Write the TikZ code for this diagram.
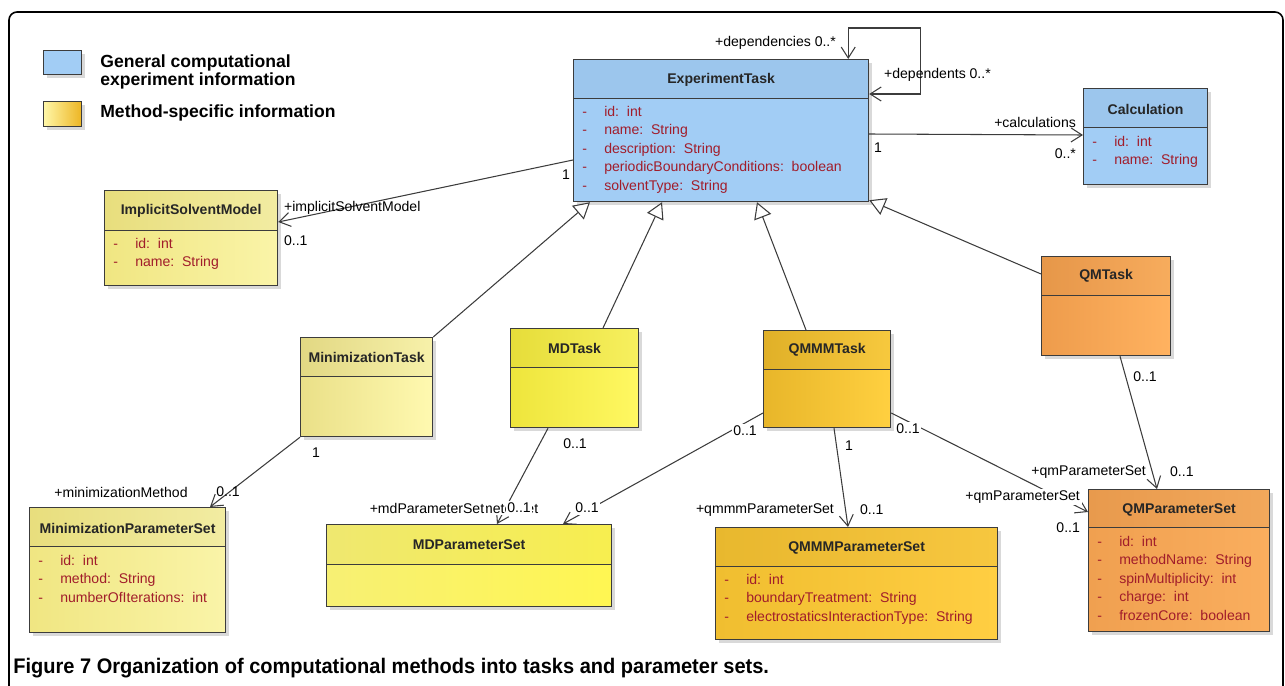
\documentclass[tikz,border=0pt]{standalone}
\usepackage{fontspec}
\setmainfont{Liberation Sans}
\newfontfamily\capfont[FakeStretch=0.95]{Liberation Sans}
\usetikzlibrary{arrows.meta, calc, shadows}

\definecolor{linegray}{HTML}{3C3C3C}
\definecolor{attred}{HTML}{A11D2B}
\definecolor{genblue}{HTML}{A2CDF5}
\definecolor{paleL}{HTML}{F0E682}
\definecolor{paleR}{HTML}{FAF4A8}
\definecolor{minL}{HTML}{EAE088}
\definecolor{minR}{HTML}{FFF9B0}
\definecolor{mdL}{HTML}{EEE53C}
\definecolor{mdR}{HTML}{FFF862}
\definecolor{mdsetL}{HTML}{F7F074}
\definecolor{mdsetR}{HTML}{FFF652}
\definecolor{qmmmL}{HTML}{E8B62A}
\definecolor{qmmmR}{HTML}{FFD040}
\definecolor{qmmmsetL}{HTML}{F0BE30}
\definecolor{qmmmsetR}{HTML}{FFCE42}
\definecolor{qmL}{HTML}{EE9C4C}
\definecolor{qmR}{HTML}{FFB260}
\definecolor{qmsetL}{HTML}{F0A050}
\definecolor{qmsetR}{HTML}{FAAE5E}
\definecolor{keyL}{HTML}{FFF7A8}
\definecolor{keyR}{HTML}{EDB523}

\newcommand{\upx}{0.02cm}
\newcommand{\att}[1]{-\hspace{9.8pt}#1}

\tikzset{
  barb/.tip={Straight Barb[length=2.2mm,width=2.8mm]},
  hollow/.tip={Triangle[fill=white,length=3.2mm,width=3.6mm]},
  umlbox/.style={draw=linegray, line width=0.7pt, anchor=north west, inner sep=0pt,
    drop shadow={shadow xshift=0.6mm, shadow yshift=-0.6mm, opacity=0.3}},
  hdr/.style={path picture={
    \fill[black, opacity=0.03] (path picture bounding box.north west) rectangle ($(path picture bounding box.north east)+(0,#1)$);
    \draw[linegray, line width=0.7pt] ($(path picture bounding box.north west)+(0,#1)$) -- ($(path picture bounding box.north east)+(0,#1)$);}},
  clsname/.style={font=\bfseries\fontsize{8}{9}\selectfont, text=black!85},
  attrs/.style={anchor=north west, align=left, inner sep=0pt, text=attred, font=\fontsize{8}{10.5}\selectfont},
  role/.style={font=\fontsize{8}{9}\selectfont, inner sep=1pt},
  rolebg/.style={role, fill=white},
  assoc/.style={draw=linegray, line width=0.6pt, -barb},
  gen/.style={draw=linegray, line width=0.6pt, -hollow},
}

\begin{document}
\begin{tikzpicture}[x=0.02cm, y=-0.02cm]
    \useasboundingbox (0,0) rectangle (1285,686);
    % frame
    \draw[line width=0.9pt, rounded corners=0.16cm] (9,690) -- (9,12) -- (1283,12) -- (1283,690);

    % legend
    \node[umlbox, fill=genblue, minimum width=38*\upx, minimum height=24*\upx] (keyblue) at (43,50) {};
    \node[anchor=west, align=left, inner sep=0pt, font=\bfseries\fontsize{10}{10.5}\selectfont] (keybluetext) at (100,72) {General computational\\experiment information};
    \node[umlbox, left color=keyL, right color=keyR, minimum width=38*\upx, minimum height=25*\upx] (keyyellow) at (43,101) {};
    \node[anchor=west, inner sep=0pt, font=\bfseries\fontsize{10}{11}\selectfont] (keyyellowtext) at (100,113) {Method-specific information};

    % classes
    \node[umlbox, fill=genblue, hdr=39, minimum width=295*\upx, minimum height=142*\upx] (exp) at (573,59) {};
    \node[clsname] at ($(exp.north)+(0,21)$) {ExperimentTask};
    \node[attrs] at ($(exp.north west)+(9,47)$) {\att{id:~~int}\\\att{name:~~String}\\\att{description:~~String}\\\att{periodicBoundaryConditions:~~boolean}\\\att{solventType:~~String}};

    \node[umlbox, fill=genblue, hdr=39, minimum width=124*\upx, minimum height=96*\upx] (calc) at (1083,88) {};
    \node[clsname] at ($(calc.north)+(0,21)$) {Calculation};
    \node[attrs] at ($(calc.north west)+(9,48)$) {\att{id:~~int}\\\att{name:~~String}};

    \node[umlbox, left color=paleL, right color=paleR, hdr=40, minimum width=173*\upx, minimum height=95*\upx] (ism) at (104,190) {};
    \node[clsname] at ($(ism.north)+(0,21)$) {ImplicitSolventModel};
    \node[attrs] at ($(ism.north west)+(9,48)$) {\att{id:~~int}\\\att{name:~~String}};

    \node[umlbox, left color=paleL, right color=paleR, hdr=39, minimum width=196*\upx, minimum height=125*\upx] (minparam) at (29,507) {};
    \node[clsname] at ($(minparam.north)+(0,21)$) {MinimizationParameterSet};
    \node[attrs] at ($(minparam.north west)+(9,48)$) {\att{id:~~int}\\\att{method:~~String}\\\att{numberOfIterations:~~int}};

    \node[umlbox, left color=minL, right color=minR, hdr=39, minimum width=132*\upx, minimum height=99*\upx] (mintask) at (300,337) {};
    \node[clsname] at ($(mintask.north)+(0,20)$) {MinimizationTask};

    \node[umlbox, left color=mdL, right color=mdR, hdr=39, minimum width=128*\upx, minimum height=99*\upx] (mdtask) at (510,328) {};
    \node[clsname] at ($(mdtask.north)+(0,20)$) {MDTask};

    \node[umlbox, left color=mdsetL, right color=mdsetR, hdr=40, minimum width=285*\upx, minimum height=82*\upx] (mdparam) at (326,524) {};
    \node[clsname] at ($(mdparam.north)+(0,21)$) {MDParameterSet};

    \node[umlbox, left color=qmmmL, right color=qmmmR, hdr=39, minimum width=127*\upx, minimum height=97*\upx] (qmmmtask) at (763,330) {};
    \node[clsname] at ($(qmmmtask.north)+(0,20)$) {QMMMTask};

    \node[umlbox, left color=qmmmsetL, right color=qmmmsetR, hdr=39, minimum width=282*\upx, minimum height=112*\upx] (qmmmparam) at (715,527) {};
    \node[clsname] at ($(qmmmparam.north)+(0,21)$) {QMMMParameterSet};
    \node[attrs] at ($(qmmmparam.north west)+(9,47)$) {\att{id:~~int}\\\att{boundaryTreatment:~~String}\\\att{electrostaticsInteractionType:~~String}};

    \node[umlbox, left color=qmL, right color=qmR, hdr=39, minimum width=129*\upx, minimum height=99*\upx] (qmtask) at (1041,256) {};
    \node[clsname] at ($(qmtask.north)+(0,20)$) {QMTask};

    \node[umlbox, left color=qmsetL, right color=qmsetR, hdr=38, minimum width=181*\upx, minimum height=142*\upx] (qmparam) at (1088,489) {};
    \node[clsname] at ($(qmparam.north)+(0,21)$) {QMParameterSet};
    \node[attrs] at ($(qmparam.north west)+(9,47)$) {\att{id:~~int}\\\att{methodName:~~String}\\\att{spinMultiplicity:~~int}\\\att{charge:~~int}\\\att{frozenCore:~~boolean}};

    % generalizations
    \draw[gen] (mintask.north east) -- ($(exp.south west)+(17,0)$);
    \draw[gen] ($(mdtask.north west)+(93,0)$) -- ($(exp.south west)+(89,0)$);
    \draw[gen] ($(qmmmtask.north west)+(43,0)$) -- ($(exp.south west)+(184,0)$);
    \draw[gen] ($(qmtask.north west)+(0,18)$) -- ($(exp.south east)+(0,-2)$);

    % associations
    \draw[draw=linegray, line width=0.6pt, barb-barb] ($(exp.north east)+(-21,0)$) -- ++(0,-31) -- ++(72,0) -- ++(0,66) -- ($(exp.north east)+(0,35)$);
    \draw[assoc] ($(exp.north east)+(0,75)$) -- ($(calc.north west)+(0,47)$);
    \draw[assoc] ($(exp.north west)+(0,101)$) -- ($(ism.north east)+(0,32)$);
    \draw[assoc] (mintask.south west) -- ($(minparam.north west)+(181,0)$);
    \draw[assoc] ($(mdtask.south west)+(38,0)$) -- ($(mdparam.north west)+(171,0)$);
    \draw[assoc] ($(qmmmtask.north west)+(0,83)$) -- ($(mdparam.north west)+(237,0)$);
    \draw[assoc] ($(qmmmtask.south west)+(71,0)$) -- ($(qmmmparam.north west)+(133,0)$);
    \draw[assoc] ($(qmmmtask.north east)+(0,83)$) -- ($(qmparam.north west)+(0,23)$);
    \draw[assoc] ($(qmtask.south west)+(79,0)$) -- ($(qmparam.north west)+(69,0)$);

    % role names and multiplicities
    \node[role, anchor=east] at (838,43) {+dependencies 0..*};
    \node[role, anchor=west] at (882,75) {+dependents 0..*};
    \node[role, anchor=east] at (1078,122) {+calculations};
    \node[role, anchor=east] at (1078,154) {0..*};
    \node[role] at (878,148) {1};
    \node[role] at (566,175) {1};
    \node[role, anchor=west] at (282,208) {+implicitSolventModel};
    \node[role, anchor=west] at (282,241) {0..1};
    \node[role] at (316,453) {1};
    \node[role] at (121,492) {+minimizationMethod};
    \node[role] at (228,492) {0..1};
    \node[role] at (575,444) {0..1};
    \node[rolebg] at (481,508) {+mdParameterSet};
    \node[rolebg] at (427,508) {+mdParameterSet};
    \node[rolebg] at (519,508) {0..1};
    \node[rolebg] at (587,508) {0..1};
    \node[rolebg] at (745,431) {0..1};
    \node[role] at (849,446) {1};
    \node[role, anchor=east] at (836,510) {+qmmmParameterSet};
    \node[role, anchor=west] at (858,510) {0..1};
    \node[rolebg] at (908,429) {0..1};
    \node[rolebg, anchor=east] at (1082,497) {+qmParameterSet};
    \node[role, anchor=east] at (1082,528) {0..1};
    \node[role] at (1145,377) {0..1};
    \node[role, anchor=east] at (1148,472) {+qmParameterSet};
    \node[role, anchor=west] at (1168,472) {0..1};

    % caption
    \node[anchor=west, inner sep=0pt, font=\capfont\bfseries\fontsize{12}{14}\selectfont] (caption) at (13,668) {Figure 7 Organization of computational methods into tasks and parameter sets.};
\end{tikzpicture}
\end{document}
